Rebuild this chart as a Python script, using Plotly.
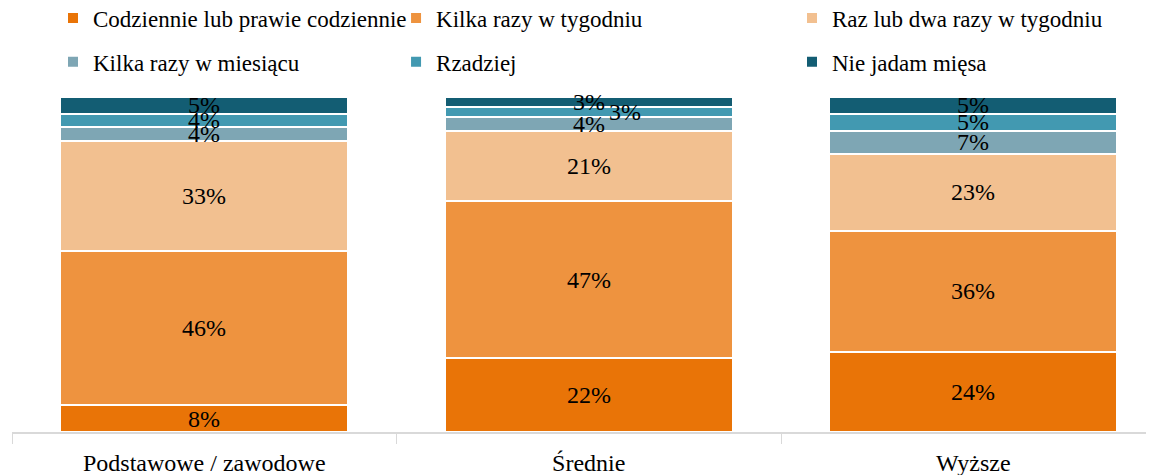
import plotly.graph_objects as go

categories = ["Podstawowe / zawodowe", "Średnie", "Wyższe"]
series_names = [
    "Codziennie lub prawie codziennie",
    "Kilka razy w tygodniu",
    "Raz lub dwa razy w tygodniu",
    "Kilka razy w miesiącu",
    "Rzadziej",
    "Nie jadam mięsa",
]
codziennie = [8, 22, 24]
kilka_tyg = [46, 47, 36]
raz_dwa = [33, 21, 23]
kilka_mies = [4, 4, 7]
rzadziej = [4, 3, 5]
nie_jadam = [5, 3, 5]
series_values = [codziennie, kilka_tyg, raz_dwa, kilka_mies, rzadziej, nie_jadam]

colors = ["#E97407", "#EE933F", "#F2C090", "#7EA6B4", "#4299B1", "#135D73"]
legend_ids = ["legend", "legend2", "legend3", "legend", "legend2", "legend3"]

FONT = "Liberation Serif"

fig = go.Figure()
for i, (name, vals) in enumerate(zip(series_names, series_values)):
    fig.add_trace(go.Bar(
        x=categories, y=vals, name=name,
        marker=dict(color=colors[i], line=dict(color="white", width=2)),
        legend=legend_ids[i], legendgroup=name,
        hoverinfo="skip",
    ))

# data labels
annotations = []
for ci, cat in enumerate(categories):
    cum = 0
    for si, vals in enumerate(series_values):
        v = vals[ci]
        xshift = 0
        if ci == 1 and si == 4:
            xshift = 36
        annotations.append(dict(
            x=cat, y=cum + v / 2, xref="x", yref="y",
            text=f"{v}%", showarrow=False, xshift=xshift,
            font=dict(family=FONT, size=24, color="black"),
        ))
        cum += v

leg_common = dict(
    orientation="v", yanchor="top", y=1.30,
    font=dict(family=FONT, size=23, color="black"),
    bgcolor="rgba(0,0,0,0)", tracegroupgap=11, itemwidth=30,
    traceorder="grouped",
)

# page body has an 8px margin: figure is sized/offset to compensate
fig.update_layout(
    width=1146, height=467,
    margin=dict(l=4, r=0, t=89, b=43, autoexpand=False),
    plot_bgcolor="white", paper_bgcolor="white",
    barmode="stack", bargap=0.25,
    showlegend=True,
    legend=dict(x=0.0359, xanchor="left", **leg_common),
    legend2=dict(x=0.3363, xanchor="left", **leg_common),
    legend3=dict(x=0.683, xanchor="left", **leg_common),
    annotations=annotations,
    font=dict(family=FONT, size=24, color="black"),
)
fig.update_xaxes(
    range=[-0.5, 2.47], showline=True, linecolor="#D9D9D9", linewidth=2,
    ticks="outside", tickson="boundaries", ticklen=10, tickcolor="#D9D9D9",
    tickwidth=1, showgrid=False, automargin=False, ticklabelstandoff=8,
    tickfont=dict(family=FONT, size=24, color="black"),
)
fig.update_yaxes(range=[0, 100], visible=False, showgrid=False)

fig.write_html("out.html")
